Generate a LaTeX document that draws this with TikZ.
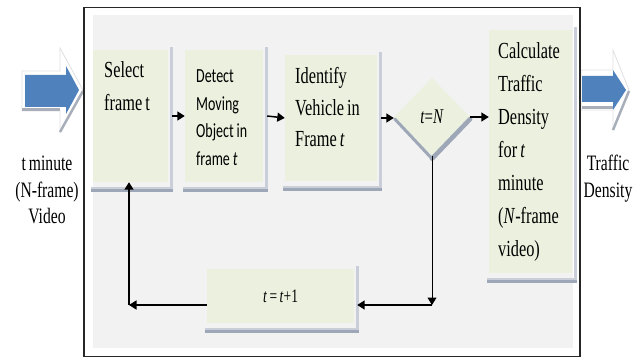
\documentclass[tikz,border=0pt]{standalone}
\usepackage{fontspec}
\setmainfont{Liberation Serif}[FakeStretch=0.71, WordSpace=0.5]
\newfontfamily\detfont{Carlito}[FakeStretch=0.7, WordSpace=0.5]
\usetikzlibrary{arrows.meta,calc,shapes.geometric}
\definecolor{boxg}{HTML}{EBF1DE}
\definecolor{panelc}{HTML}{F2F2F2}
\definecolor{shd}{HTML}{9DA7B7}
\definecolor{shl}{HTML}{C9CED8}
\definecolor{arrblue}{HTML}{4F81BD}
\definecolor{bevel}{HTML}{A9AFBA}
\definecolor{bevl}{HTML}{E0E0E0}
\newcommand\boxshade[1]{%
  \fill[shl] ($(#1.north east)+(2,-3)$) rectangle ($(#1.south east)+(4.5,10)$);
  \fill[shd] ($(#1.south west)+(-2,6)$) rectangle ($(#1.south east)+(4.5,10)$);
  \fill[shl] ($(#1.south west)+(-2,5)$) rectangle ($(#1.south east)+(4.5,6.5)$);
}
\begin{document}
\begin{tikzpicture}[x=1pt,y=-1pt,
  box/.style={rectangle, fill=boxg, inner sep=0pt},
  lbl/.style={inner sep=0pt, anchor=base west, align=left, text width=#1, execute at begin node={\spaceskip=3pt\relax}},
  clbl/.style={inner sep=0pt, anchor=base, align=center, text width=#1, execute at begin node={\spaceskip=3pt\relax}},
  arr/.style={-{Triangle[length=7.5pt,width=9pt]}, line width=1.5pt, black},
  big/.style={font={\fontsize{23}{33}\selectfont}}]
\useasboundingbox (0,0) rectangle (644,358);
\fill[panelc] (93,15) rectangle (573,348);

% left 3D arrow
\filldraw[fill=white, draw=bevl, line width=0.8pt] (22,71) -- (60,71) -- (60,48) -- (83,90) -- (60,132) -- (60,111) -- (22,111) -- cycle;
\draw[bevel, line width=2.5pt] (83,91) -- (60,132);
\draw[bevel, line width=3pt] (22,110) -- (60,110);
\fill[arrblue] (25,75) -- (66,75) -- (66,66) -- (79,90) -- (66,114) -- (66,107) -- (25,107) -- cycle;

% right 3D arrow
\filldraw[fill=white, draw=bevl, line width=0.8pt] (581,70) -- (613,70) -- (613,50) -- (629,90) -- (613,130) -- (613,110) -- (581,110) -- cycle;
\draw[bevel, line width=2.5pt] (629,91) -- (613,130);
\draw[bevel, line width=3pt] (582,108) -- (613,108);
\fill[arrblue] (582,76) -- (613,76) -- (613,70) -- (626,90) -- (613,110) -- (613,102) -- (582,102) -- cycle;

% boxes
\node[box, minimum width=75, minimum height=132] (sel) at (130.5,116) {};
\node[box, minimum width=78, minimum height=132] (det) at (224,116) {};
\node[box, minimum width=92, minimum height=126] (idf) at (331,118) {};
\node[box, minimum width=83, minimum height=243] (calc) at (530.5,151.5) {};
\node[box, minimum width=147, minimum height=54, font={\fontsize{19}{20}\selectfont}] (tb) at (280.5,296) {\textit{t}\kern2.5pt=\kern2.5pt\textit{t}+1};
\boxshade{sel}
\boxshade{det}
\boxshade{idf}
\boxshade{calc}
\boxshade{tb}

% decision
\node[diamond, fill=boxg, inner sep=0pt, minimum width=76, minimum height=78, font={\fontsize{21}{22}\selectfont}] (dia) at (432,117) {\textit{t}=\textit{N}};
\draw[shd, line width=3pt, line cap=round] ($(dia.west)+(1,2)$) -- ($(dia.south)+(0,2.5)$);
\draw[shd, line width=4.5pt, line cap=round] ($(dia.south)+(0,2.5)$) -- ($(dia.east)+(0,2)$);

% texts
\node[lbl=70, big] (selT) at (104,78) {Select\\frame t};
\node[lbl=70, font={\detfont\fontsize{20}{27.5}\selectfont}] (detT) at (196,83) {Detect\\Moving\\Object in\\frame \textit{t}};
\node[lbl=80, font={\fontsize{23}{31.5}\selectfont}] (idfT) at (295,84) {Identify\\Vehicle in\\Frame \textit{t}};
\node[lbl=75, big] (calcT) at (498,59) {Calculate\\Traffic\\Density\\for \textit{t}\\minute\\(\textit{N}-frame\\video)};
\node[clbl=80, font={\fontsize{22}{26}\selectfont}] (inT) at (47,171) {t minute\\(N-frame)\\Video};
\node[clbl=70, font={\fontsize{22}{27}\selectfont}] (outT) at (608,171) {Traffic\\Density};

% connectors
\coordinate (c1) at (129,305);
\coordinate (c2) at (432,305);
\draw[arr] ($(sel.east)+(4,0)$) -- (det.west);
\draw[arr] ($(det.east)+(4,0)$) -- (idf.west);
\draw[arr] ($(idf.east)+(4,0)$) -- (dia.west |- idf.east);
\draw[arr] (dia.east) -- (calc.west |- dia.east);
\draw[arr, line width=1pt] (dia.south) -- (c2);
\draw[arr] (c2) -- ($(c2 -| tb.east)+(3,0)$);
\draw[arr] (c1 -| tb.west) -- (c1);
\draw[arr] (c1) -- (c1 |- sel.south);

\draw[line width=1.3pt, draw=black!85] (84,7.5) rectangle (580,356.5);
\end{tikzpicture}
\end{document}
